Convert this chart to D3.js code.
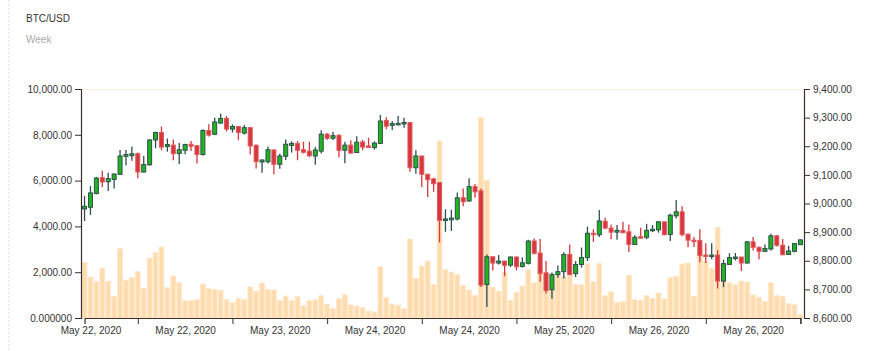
<!DOCTYPE html>
<html>
<head>
<meta charset="utf-8">
<script src="https://cdn.jsdelivr.net/npm/d3@7"></script>
<style>
  body { margin: 0; background: #fff; font-family: "Liberation Sans", Arial, sans-serif; }
  svg text { font-family: "Liberation Sans", Arial, sans-serif; }
</style>
</head>
<body>
<div id="chart"></div>
<script>
// BTC/USD candles (one entry per candle)
const open = [8981,8987,9035,9090,9076,9084,9102,9165,9167,9174,9110,9135,9222,9248,9199,9204,9175,9186,9207,9202,
  9171,9255,9242,9281,9297,9260,9269,9246,9265,9203,9145,9146,9187,9137,9165,9203,9209,9188,9183,9166,
  9183,9242,9228,9238,9186,9204,9178,9215,9201,9196,9210,9290,9273,9277,9279,9283,9125,9166,9102,9086,
  9073,8941,8943,8946,9020,9009,9059,9044,8717,8814,8792,8799,8785,8813,8780,8791,8869,8827,8758,8699,
  8752,8762,8822,8755,8787,8811,8896,8891,8938,8914,8900,8906,8901,8857,8884,8882,8905,8908,8936,8892,
  8957,8971,8893,8872,8871,8820,8815,8820,8729,8787,8808,8813,8792,8866,8847,8833,8841,8887,8854,8822,
  8833,8856];
const high = [9026,9061,9093,9114,9107,9105,9187,9187,9199,9178,9166,9224,9251,9269,9227,9224,9211,9209,9218,9202,
  9259,9277,9300,9314,9306,9276,9269,9274,9265,9207,9154,9199,9189,9174,9224,9217,9218,9216,9216,9197,
  9256,9246,9251,9242,9216,9221,9235,9222,9230,9217,9309,9301,9288,9306,9300,9283,9186,9166,9104,9090,
  9073,8980,8978,9038,9052,9088,9068,9052,8822,8814,8820,8799,8815,8815,8812,8873,8878,8876,8799,8759,
  8783,8830,8857,8799,8846,8919,8910,8977,8950,8927,8925,8936,8927,8889,8915,8929,8925,8939,8936,8964,
  9012,8990,8893,8883,8910,8861,8861,8837,8804,8826,8827,8813,8869,8883,8850,8857,8894,8890,8876,8852,
  8862,8875];
const low = [8939,8960,9032,9058,9044,9052,9100,9133,9149,9088,9108,9133,9193,9186,9181,9151,9138,9172,9183,9140,
  9168,9234,9239,9279,9251,9248,9221,9241,9171,9122,9107,9140,9102,9121,9152,9178,9151,9175,9162,9135,
  9175,9222,9222,9162,9141,9175,9176,9186,9196,9188,9210,9259,9257,9273,9265,9111,9104,9058,9023,9041,
  8864,8901,8904,8941,8990,9006,9020,8708,8638,8766,8787,8746,8778,8766,8776,8787,8822,8727,8686,8667,
  8741,8738,8749,8743,8776,8799,8866,8883,8910,8875,8873,8896,8831,8855,8878,8875,8900,8898,8889,8869,
  8948,8886,8847,8848,8795,8792,8805,8703,8708,8785,8801,8764,8790,8836,8805,8830,8836,8850,8819,8821,
  8829,8855];
const close = [8990,9037,9089,9075,9087,9103,9166,9171,9174,9110,9136,9222,9248,9197,9206,9174,9188,9206,9200,9171,
  9255,9239,9285,9297,9260,9269,9248,9265,9201,9146,9152,9188,9137,9166,9207,9210,9186,9179,9167,9187,
  9242,9228,9237,9186,9204,9176,9214,9197,9196,9211,9288,9270,9279,9280,9283,9125,9166,9102,9083,9069,
  8941,8946,8949,9020,9006,9059,9041,8715,8814,8792,8799,8784,8813,8779,8793,8869,8826,8756,8696,8752,
  8762,8822,8752,8787,8811,8896,8891,8939,8914,8900,8906,8898,8857,8882,8880,8906,8910,8936,8891,8959,
  8971,8891,8872,8869,8818,8815,8820,8729,8790,8811,8813,8792,8866,8847,8833,8843,8887,8854,8821,8834,
  8860,8873];
const volume = [2420,1790,1600,2170,1600,935,3025,1656,1758,2020,1280,2617,2865,3100,1322,1831,1540,754,754,797,
  1482,1278,1234,1205,797,666,841,797,1365,1161,1525,1234,1220,754,958,754,928,535,754,797,
  970,594,404,841,1016,565,521,448,302,259,2239,885,608,565,404,3447,1729,2268,2486,1467,
  7728,2108,2006,1889,1424,1220,987,8747,6010,1351,1161,1991,768,1118,1394,2108,1540,2224,1860,1831,
  1904,1800,2778,1453,1453,2370,1584,2370,972,1147,681,710,1860,799,770,974,857,1090,828,1760,
  1818,2358,2400,945,3083,2472,2153,3957,1760,1541,1453,1614,1570,1004,904,725,1541,972,943,624,
  580,144];

// axis ticks
const volTicks = [0, 2000, 4000, 6000, 8000, 10000];
const volTickLabels = ["0.000000", "2,000.00", "4,000.00", "6,000.00", "8,000.00", "10,000.00"];
const priceTicks = [8600, 8700, 8800, 8900, 9000, 9100, 9200, 9300, 9400];
const dateTicks = [9, 25, 41, 57, 73, 89, 105, 121];
const dateLabels = ["May 22, 2020", "May 22, 2020", "May 23, 2020", "May 24, 2020",
  "May 24, 2020", "May 25, 2020", "May 26, 2020", "May 26, 2020"];

const width = 891, height = 351;
const margin = { top: 89, right: 87, bottom: 33, left: 81 };
const plotW = width - margin.left - margin.right;
const plotH = height - margin.top - margin.bottom;

const candles = open.map((o, i) => ({
  i: i, open: o, high: high[i], low: low[i], close: close[i], volume: volume[i]
}));

const svg = d3.select("#chart").append("svg")
  .attr("width", width)
  .attr("height", height);

// card edge and titles
svg.append("line")
  .attr("x1", 8.5).attr("x2", 8.5).attr("y1", 0).attr("y2", height)
  .attr("stroke", "#e4e4e4").attr("stroke-dasharray", "2,2");

svg.append("text").attr("x", 26).attr("y", 22)
  .attr("font-size", "10px").attr("fill", "#333").text("BTC/USD");
svg.append("text").attr("x", 26).attr("y", 43)
  .attr("font-size", "10px").attr("fill", "#aaa").text("Week");

const g = svg.append("g").attr("transform", `translate(${margin.left},${margin.top})`);

// scales
const x = d3.scaleBand()
  .domain(d3.range(candles.length))
  .range([0, plotW])
  .padding(0.2);
const step = x.step();
const xc = i => x(i) + x.bandwidth() / 2;
const xLin = d3.scaleLinear()
  .domain([0, candles.length - 1])
  .range([xc(0), xc(candles.length - 1)]);

const yVol = d3.scaleLinear().domain([0, 10000]).range([plotH, 0]);
const yPrice = d3.scaleLinear().domain([8600, 9400]).range([plotH, 0]);

// faint top line
g.append("line")
  .attr("x1", 0).attr("x2", plotW).attr("y1", 0.5).attr("y2", 0.5)
  .attr("stroke", "#fcefdd");

// volume bars
g.append("g").selectAll("rect")
  .data(candles)
  .join("rect")
  .attr("x", d => x(d.i))
  .attr("y", d => yVol(d.volume))
  .attr("width", x.bandwidth())
  .attr("height", d => plotH - yVol(d.volume))
  .attr("fill", "#ffdcae")
  .attr("stroke", "#ffe6c9")
  .attr("stroke-width", 0.8);

// candles
const up = "#1fb51f", upLine = "#2f4f4f";
const down = "#d6373c", downLine = "#e0585c";
const bodyW = 4;

const cg = g.append("g").selectAll("g")
  .data(candles)
  .join("g");

cg.append("line")
  .attr("x1", d => xc(d.i)).attr("x2", d => xc(d.i))
  .attr("y1", d => yPrice(d.high))
  .attr("y2", d => yPrice(d.low))
  .attr("stroke", d => d.close >= d.open ? upLine : down)
  .attr("stroke-width", 1.3);

cg.append("rect")
  .attr("x", d => xc(d.i) - bodyW / 2)
  .attr("y", d => yPrice(Math.max(d.open, d.close)))
  .attr("width", bodyW)
  .attr("height", d => Math.max(1.5, Math.abs(yPrice(d.open) - yPrice(d.close))))
  .attr("fill", d => d.close >= d.open ? up : down)
  .attr("stroke", d => d.close >= d.open ? upLine : downLine)
  .attr("stroke-width", 1);

// axes
const axisColor = "#3a3029";

const leftAxis = g.append("g")
  .call(d3.axisLeft(yVol).tickValues(volTicks).tickFormat((d, i) => volTickLabels[i]));

const rightAxis = g.append("g")
  .attr("transform", `translate(${plotW},0)`)
  .call(d3.axisRight(yPrice).tickValues(priceTicks).tickFormat(d3.format(",.2f")));

const bottomAxis = g.append("g")
  .attr("transform", `translate(0,${plotH})`)
  .call(d3.axisBottom(xLin).tickValues(dateTicks).tickFormat((d, i) => dateLabels[i]));

// date labels sit half a tick interval to the left of their tick
bottomAxis.selectAll(".tick text")
  .attr("x", -8 * step);

[leftAxis, rightAxis, bottomAxis].forEach(a => {
  a.select(".domain").attr("stroke", axisColor).attr("stroke-width", 1.2);
  a.selectAll(".tick line").attr("stroke", axisColor);
  a.selectAll(".tick text")
    .attr("fill", "#333")
    .style("font-size", "10px")
    .style("font-family", "'Liberation Sans', Arial, sans-serif");
});
</script>
</body>
</html>
